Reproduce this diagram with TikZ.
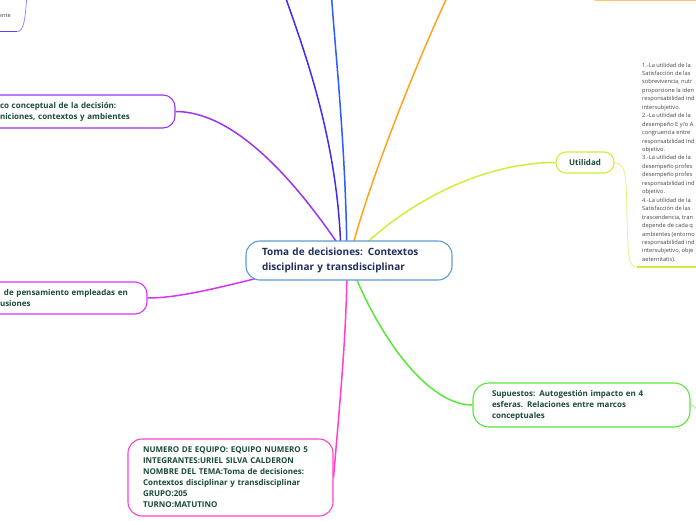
\documentclass[tikz,border=0pt]{standalone}
\usepackage{fontspec}
\setmainfont{Open Sans}
\usetikzlibrary{backgrounds}
\definecolor{cblue}{HTML}{5B9BD5}
\definecolor{ctxt}{HTML}{1F2F5C}
\definecolor{ntxt}{HTML}{1A4A3A}
\definecolor{cpurple}{HTML}{9B34F0}
\definecolor{cmagp}{HTML}{D535F5}
\definecolor{cmag}{HTML}{FF3FD0}
\definecolor{cgreen}{HTML}{5AE639}
\definecolor{cgreenl}{HTML}{9EEB8A}
\definecolor{cyellow}{HTML}{CCF03A}
\definecolor{cyellowl}{HTML}{DDF27A}
\definecolor{corange}{HTML}{FFA31A}
\definecolor{cbone}{HTML}{3F2CF0}
\definecolor{cbtwo}{HTML}{2A5CFF}
\definecolor{cviol}{HTML}{8C7BFF}
\definecolor{cviold}{HTML}{5A44F0}
\definecolor{graytxt}{HTML}{444444}
\begin{document}
\begin{tikzpicture}[x=1pt,y=-1pt,
  topic/.style={draw, fill=white, rounded corners=12pt, line width=1.1pt, inner ysep=0pt,
    align=left, font=\fontsize{8}{11}\selectfont\bfseries, text=ntxt},
  conn/.style={line width=1.5pt},
  thinconn/.style={line width=0.7pt},
  uline/.style={line width=1.5pt},
  smalltxt/.style={inner sep=0pt, align=left, font=\fontsize{5.7}{8.45}\selectfont, text=graytxt}]
\useasboundingbox (0,0) rectangle (696,520);

% nodes
\node[topic, draw=cblue, rounded corners=14pt, minimum height=39pt, inner xsep=16pt, text width=174pt,
  font=\fontsize{10}{14.5}\selectfont\bfseries, text=ctxt] (c) at (349,260.5)
  {Toma de decisiones: Contextos\\disciplinar y transdisciplinar};

\node[topic, draw=cpurple, minimum height=33pt, inner xsep=12pt, text width=163pt] (marco) at (81.5,111.5)
  {co conceptual de la decisión:\\niciones, contextos y ambientes};

\node[topic, draw=cmagp, minimum height=32pt, inner xsep=12pt, text width=135pt] (pens) at (67.5,298)
  {\hspace*{4pt}de pensamiento empleadas en\\usiones};

\node[topic, draw=cyellow, rounded corners=10pt, minimum width=58pt, minimum height=21pt, inner xsep=0pt,
  align=center] (util) at (585,162.5) {Utilidad};

\node[topic, draw=cgreen, rounded corners=16pt, minimum height=44pt, inner xsep=19pt, text width=179pt] (sup) at (581.5,405)
  {Supuestos: Autogestión impacto en 4\\esferas. Relaciones entre marcos\\conceptuales};

\node[topic, draw=cmag, rounded corners=14pt, minimum height=77pt, inner xsep=15pt, text width=175pt] (team) at (230.5,477.5)
  {NUMERO DE EQUIPO: EQUIPO NUMERO 5\\INTEGRANTES:URIEL SILVA CALDERON\\NOMBRE DEL TEMA:Toma de decisiones:\\Contextos disciplinar y transdisciplinar\\GRUPO:205\\TURNO:MATUTINO};

\node[smalltxt, anchor=north west] (utxt) at (642,62.5)
  {1.-La utilidad de la\\Satisfacción de las\\sobrevivencia, nutr\\proporcione la iden\\responsabilidad ind\\intersubjetivo.\\2.-La utilidad de la\\desempeño E y/o A\\congruencia entre\\responsabilidad ind\\objetivo.\\3.-La utilidad de la\\desempeño profes\\desempeño profes\\responsabilidad ind\\objetivo.\\4.-La utilidad de la\\Satisfacción de las\\trascendencia, tran\\depende de cada q\\ambientes (entorno\\responsabilidad ind\\intersubjetivo, obje\\aeternitatis).};

\node[smalltxt, anchor=east] (tlt) at (11,16) {ente};

\node[draw=corange, line width=1.5pt, rounded corners=6pt, minimum width=130pt, minimum height=30pt,
  anchor=south west, inner sep=0pt] (otop) at (590,0.7) {};

% free ends
\coordinate (bonep) at (283,-10);
\coordinate (btwop) at (331,-10);
\coordinate (op) at (458,-25);
\coordinate (tlp) at (27,-5);
\coordinate (tlu) at (17,31.5);
\coordinate (tle) at (-5,31.5);
\coordinate (ul) at (637,267);
\coordinate (ulend) at (700,267);
\coordinate (sr) at (704,430);

\begin{scope}[on background layer]
\draw[conn, cbone] (bonep) .. controls (300,40) and (340,140) .. ([xshift=-8pt]c.center);
\draw[conn, cbtwo] (btwop) .. controls (336,60) and (346,150) .. ([xshift=-2pt]c.center);
\draw[conn, corange] (op) .. controls (425,40) and (365,190) .. (c.center);
\draw[conn, cpurple] (marco.east) .. controls (230,111.5) and (290,170) .. (c.center);
\draw[conn, cmagp] (pens.east) .. controls (200,298) and (270,270) .. (c.center);
\draw[conn, cyellow] (util.west) .. controls (480,162.5) and (400,205) .. (c.center);
\draw[conn, cgreen] (sup.west) .. controls (425,405) and (375,330) .. (c.center);
\draw[conn, cmag] (team.east) .. controls (340,400) and (347,330) .. ([xshift=-2pt]c.center);
\draw[thinconn, cyellowl] (util.east) .. controls (628,163) and (626,185) .. (627,215)
  .. controls (628,255) and (628,267) .. (ul);
\draw[uline, cyellow] (ul) -- (ulend);
\draw[thinconn, cgreenl] (sup.east) .. controls (697,405) and (699,415) .. (sr);
\draw[thinconn, cviol] (tlp) .. controls (25,20) and (24,31.5) .. (tlu);
\draw[uline, cviold] (tle) -- (tlu);
\end{scope}
\end{tikzpicture}
\end{document}
